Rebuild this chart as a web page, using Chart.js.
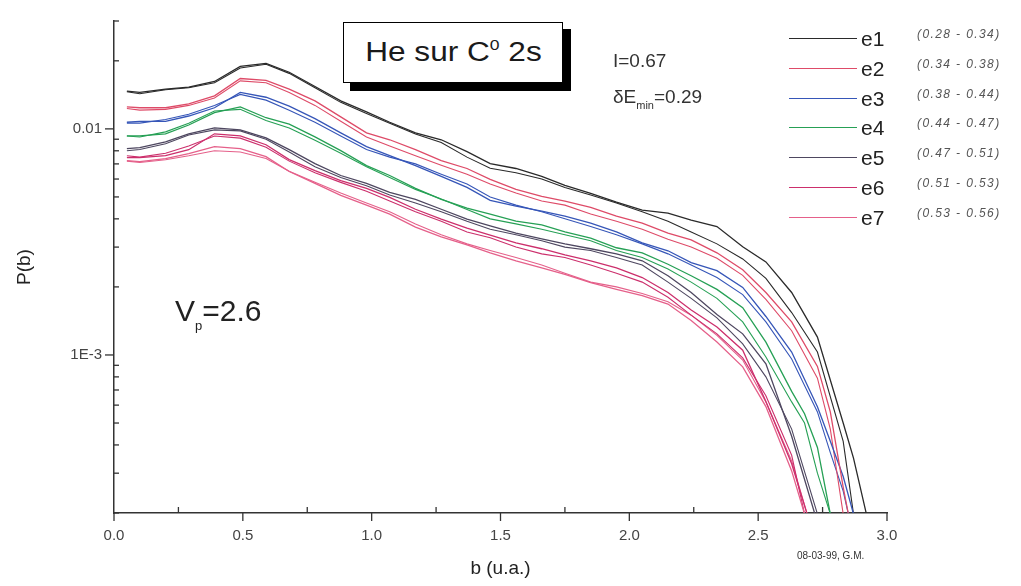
<!DOCTYPE html>
<html><head><meta charset="utf-8">
<script src="https://cdn.jsdelivr.net/npm/chart.js@4.4.0/dist/chart.umd.min.js"></script>
<style>
html,body{margin:0;padding:0;background:#fff;}
#wrap{position:relative;width:1021px;height:586px;overflow:hidden;font-family:"Liberation Sans",Arial,sans-serif;color:#1a1a1a;}
canvas{position:absolute;left:0;top:0;}
.t{position:absolute;white-space:nowrap;line-height:1;}
</style></head><body>
<div id="wrap">
<canvas id="c" width="1021" height="586"></canvas>
<div class="t" style="left:350px;top:29px;width:221px;height:62px;background:#000;"></div>
<div class="t" style="left:343px;top:22px;width:218px;height:59px;border:1.5px solid #000;background:#fff;display:flex;align-items:center;justify-content:center;font-size:27px;"><span style="display:inline-block;transform:scaleX(1.17);">He sur C<span style="font-size:15px;position:relative;top:-11px;">0</span>&nbsp;2s</span></div>
<div class="t" style="left:613px;top:51px;font-size:19px;color:#333;">I=0.67</div>
<div class="t" style="left:613px;top:87px;font-size:19px;color:#333;">δE<span style="font-size:11px;position:relative;top:6px;">min</span>=0.29</div>
<div class="t" style="left:175px;top:296px;font-size:30px;color:#222;">V<span style="font-size:13px;position:relative;top:9px;">p</span>=2.6</div>
<div class="t" style="left:797px;top:551px;font-size:10px;color:#333;">08-03-99, G.M.</div>
<div id="legend"></div>
</div>
<script>
// b (u.a.) sample positions
const bValues = [0.05,0.10,0.20,0.29,0.39,0.49,0.59,0.68,0.78,0.88,0.98,1.07,1.17,1.27,1.37,1.46,1.56,1.66,1.75,1.85,1.95,2.05,2.15,2.24,2.34,2.44,2.53,2.63,2.68,2.69,2.72,2.73,2.78,2.83,2.85,2.87,2.92];

// P(b), first trace of each curve pair
const e1 = [0.0147,0.0145,0.0150,0.0153,0.0162,0.0189,0.0195,0.0178,0.0154,0.0133,0.0119,0.0107,0.0096,0.00895,0.00793,0.00702,0.00668,0.00616,0.00562,0.00519,0.00474,0.00437,0.00424,0.00395,0.0037,0.00301,0.00258,0.00189,null,null,null,0.00120,null,0.00050,null,0.00035,0.000198];
const e2 = [0.0125,0.0124,0.0124,0.0129,0.0140,0.0167,0.0164,0.0150,0.0133,0.0113,0.0096,0.00895,0.00809,0.00724,0.00668,0.00598,0.00540,0.00503,0.00479,0.00450,0.00411,0.00383,0.00346,0.00323,0.00283,0.00238,0.00189,0.00140,null,null,null,0.00089,0.00056,0.00026,0.000198,null,null];
const e3 = [0.0107,0.0108,0.0108,0.0114,0.0124,0.0145,0.0138,0.0126,0.0111,0.0096,0.00834,0.00761,0.00688,0.00616,0.00551,0.00483,0.00455,0.00433,0.00411,0.00383,0.00350,0.00313,0.00289,0.00256,0.00236,0.00199,0.00148,0.00103,null,null,null,0.00059,0.000415,0.00029,null,0.000198,null];
const e4 = [0.00932,0.00932,0.00951,0.0104,0.0118,0.0125,0.0112,0.0105,0.00922,0.00801,0.00688,0.00622,0.00546,0.00488,0.00446,0.00420,0.00391,0.00376,0.00350,0.00329,0.00298,0.00283,0.00252,0.00224,0.00195,0.00162,0.00114,0.00069,0.00055,null,null,0.00039,0.000198,null,null,null,null];
const e5 = [0.00817,0.00826,0.00877,0.00951,0.0101,0.0099,0.00913,0.00809,0.00702,0.00622,0.00574,0.00524,0.00488,0.00441,0.00399,0.00372,0.00346,0.00326,0.00310,0.00295,0.00280,0.00261,0.00224,0.00189,0.00151,0.00124,0.000913,0.000437,null,null,0.000198,null,null,null,null,null,null];
const e6 = [0.00746,0.00746,0.00761,0.00809,0.00951,0.00932,0.00851,0.00731,0.00654,0.00591,0.00546,0.00498,0.00441,0.00399,0.00364,0.00339,0.00313,0.00295,0.00277,0.00261,0.00243,0.00220,0.00189,0.00158,0.00133,0.00105,0.000622,0.00033,null,0.000198,null,null,null,null,null,null,null];
const e7 = [0.00724,0.00717,0.00739,0.00777,0.00834,0.00817,0.00754,0.00648,0.00574,0.00508,0.00460,0.00420,0.00368,0.00333,0.00307,0.00283,0.00261,0.00243,0.00227,0.00209,0.00195,0.00183,0.00168,0.00142,0.00114,0.000886,0.000591,0.000307,0.000198,null,null,null,null,null,null,null,null];

// P(b), second trace of each curve pair
const e1b = [0.0146,0.0143,0.0149,0.0152,0.0160,0.0186,0.0193,0.0176,0.0152,0.0131,0.0117,0.0106,0.0095,0.0087,0.0075,0.0067,0.0064,0.0060,0.0055,0.0051,0.0047,0.0043,0.0039,0.0035,0.0031,0.00266,0.00218,0.00154,null,null,null,0.00103,null,0.000415,null,0.000198,null];
const e2b = [0.0123,0.0121,0.0122,0.0127,0.0137,0.0163,0.0160,0.0145,0.0127,0.0108,0.0092,0.0084,0.0076,0.0069,0.0063,0.0057,0.0052,0.0048,0.0046,0.0042,0.0039,0.0036,0.00325,0.00300,0.00268,0.00225,0.00176,0.00128,null,null,null,0.00079,0.00047,0.000198,null,null,null];
const e3b = [0.0106,0.0106,0.0110,0.0116,0.0127,0.0142,0.0134,0.0121,0.0107,0.0093,0.0081,0.0075,0.0070,0.0063,0.0057,0.0050,0.0046,0.0043,0.0040,0.0037,0.0034,0.0031,0.0028,0.0025,0.0022,0.00185,0.00140,0.00096,null,null,null,0.00056,0.00037,0.00025,0.000198,null,null];
const e4b = [0.0093,0.0092,0.0097,0.0106,0.0120,0.0122,0.0109,0.0101,0.0089,0.0078,0.0068,0.0061,0.0054,0.0049,0.0044,0.0040,0.0038,0.0036,0.0034,0.0032,0.0029,0.0027,0.0024,0.0021,0.00178,0.00140,0.00098,0.00062,0.00050,null,null,0.00030,0.000198,null,null,null,null];
const e5b = [0.0080,0.0081,0.0086,0.0094,0.0099,0.0098,0.0090,0.0079,0.0068,0.0061,0.0056,0.0051,0.0047,0.0043,0.0039,0.0036,0.0034,0.0032,0.0030,0.0029,0.0027,0.0025,0.0021,0.00178,0.00146,0.00112,0.00080,0.00047,null,null,null,0.000198,null,null,null,null,null];
const e6b = [0.0076,0.0075,0.0078,0.0084,0.0093,0.0091,0.0083,0.0072,0.0064,0.0058,0.0053,0.0048,0.0043,0.0039,0.0035,0.0033,0.0030,0.0028,0.0027,0.0025,0.0023,0.0021,0.0018,0.00150,0.00124,0.00097,0.00066,0.00036,0.000198,null,null,null,null,null,null,null,null];
const e7b = [0.0072,0.0071,0.0073,0.0076,0.0080,0.0079,0.0074,0.0065,0.0058,0.0052,0.0047,0.0043,0.0038,0.0034,0.0031,0.0029,0.0027,0.0025,0.0023,0.0021,0.00200,0.00187,0.00172,0.00150,0.00122,0.00095,0.00062,0.00034,null,0.000198,null,null,null,null,null,null,null];

const seriesNames = ['e1','e2','e3','e4','e5','e6','e7'];
const seriesValues = [e1,e2,e3,e4,e5,e6,e7];
const seriesTwins = [e1b,e2b,e3b,e4b,e5b,e6b,e7b];
const seriesColors = ['#2a2a2a','#de4b68','#3656b8','#26a055','#4e4760','#cc2f6c','#e5608a'];
const rangeNotes = ['(0.28 - 0.34)','(0.34 - 0.38)','(0.38 - 0.44)','(0.44 - 0.47)','(0.47 - 0.51)','(0.51 - 0.53)','(0.53 - 0.56)'];

const xMajorTicks = [0,0.5,1.0,1.5,2.0,2.5,3.0];
const xMinorTicks = [0.25,0.75,1.25,1.75,2.25,2.75];
const yMajorTicks = [0.001,0.01];
const yMajorLabels = ['1E-3','0.01'];
const yMinorTicks = [2e-4,3e-4,4e-4,5e-4,6e-4,7e-4,8e-4,9e-4,2e-3,3e-3,4e-3,5e-3,6e-3,7e-3,8e-3,9e-3,0.02,0.03];

Chart.defaults.font.family = '"Liberation Sans", Arial, sans-serif';

const tickMarks = {
  id: 'tickMarks',
  afterDraw(chart) {
    const {ctx, chartArea: a} = chart;
    const xs = chart.scales.x, ys = chart.scales.y;
    ctx.save();
    ctx.strokeStyle = '#333';
    ctx.lineWidth = 1.3;
    const seg = (x1, y1, x2, y2) => { ctx.beginPath(); ctx.moveTo(x1, y1); ctx.lineTo(x2, y2); ctx.stroke(); };
    xMajorTicks.forEach(v => { const p = xs.getPixelForValue(v); seg(p, a.bottom, p, a.bottom + 8); });
    xMinorTicks.forEach(v => { const p = xs.getPixelForValue(v); seg(p, a.bottom, p, a.bottom - 6); });
    yMajorTicks.forEach(v => { const p = ys.getPixelForValue(v); seg(a.left, p, a.left - 9, p); });
    yMinorTicks.forEach(v => { const p = ys.getPixelForValue(v); seg(a.left, p, a.left + 5, p); });
    ctx.restore();
  }
};

const toPoints = vals => bValues.map((b, j) => ({x: b, y: vals[j]})).filter(p => p.y !== null);
const datasets = [];
seriesValues.forEach((vals, i) => {
  datasets.push({label: seriesNames[i], data: toPoints(vals), borderColor: seriesColors[i], backgroundColor: seriesColors[i],
    borderWidth: 1.3, pointRadius: 0, tension: 0, fill: false});
});
seriesTwins.forEach((vals, i) => {
  datasets.push({label: seriesNames[i] + "'", data: toPoints(vals), borderColor: seriesColors[i], backgroundColor: seriesColors[i],
    borderWidth: 1.1, pointRadius: 0, tension: 0, fill: false, twin: true});
});

const chart = new Chart(document.getElementById('c'), {
  type: 'line',
  data: {datasets},
  options: {
    responsive: false,
    animation: false,
    events: [],
    layout: {padding: {left: 0, right: 134, top: 16, bottom: 0}},
    plugins: {legend: {display: false}, tooltip: {enabled: false}},
    scales: {
      x: {
        type: 'linear', min: 0, max: 3,
        grid: {display: false, drawTicks: false},
        border: {display: true, color: '#333', width: 1.5},
        afterBuildTicks: s => { s.ticks = xMajorTicks.map(v => ({value: v})); },
        ticks: {callback: v => Number(v).toFixed(1), padding: 14, font: {size: 15}, color: '#444', maxRotation: 0, autoSkip: false},
        title: {display: true, text: 'b (u.a.)', font: {size: 19}, color: '#222', padding: {top: 0, bottom: 6}},
        afterFit: s => { s.height = 73; }
      },
      y: {
        type: 'logarithmic', min: 2e-4, max: 0.03,
        grid: {display: false, drawTicks: false},
        border: {display: true, color: '#333', width: 1.5},
        afterBuildTicks: s => { s.ticks = yMajorTicks.map(v => ({value: v})); },
        ticks: {callback: v => yMajorLabels[yMajorTicks.indexOf(v)] ?? '', padding: 12, font: {size: 15}, color: '#444', autoSkip: false},
        title: {display: true, text: 'P(b)', font: {size: 19}, color: '#222', padding: {top: 13, bottom: 0}},
        afterFit: s => { s.width = 114; }
      }
    }
  },
  plugins: [tickMarks]
});

// legend built from the chart's (primary) datasets
const lg = document.getElementById('legend');
chart.data.datasets.filter(ds => !ds.twin).forEach((ds, i) => {
  const cy = 39 + i * 29.8;
  const ln = document.createElement('div');
  ln.className = 't';
  ln.style.cssText = `left:789px;top:${cy - 1}px;width:68px;height:0;border-top:1.5px solid ${ds.borderColor};`;
  lg.appendChild(ln);
  const tx = document.createElement('div');
  tx.className = 't';
  tx.style.cssText = `left:861px;top:${cy - 11}px;font-size:21px;color:#222;`;
  tx.textContent = ds.label;
  lg.appendChild(tx);
  const nt = document.createElement('div');
  nt.className = 't';
  nt.style.cssText = `left:917px;top:${cy - 11}px;font-size:12px;letter-spacing:1.4px;color:#555;font-style:italic;`;
  nt.textContent = rangeNotes[i];
  lg.appendChild(nt);
});
</script>
</body></html>
